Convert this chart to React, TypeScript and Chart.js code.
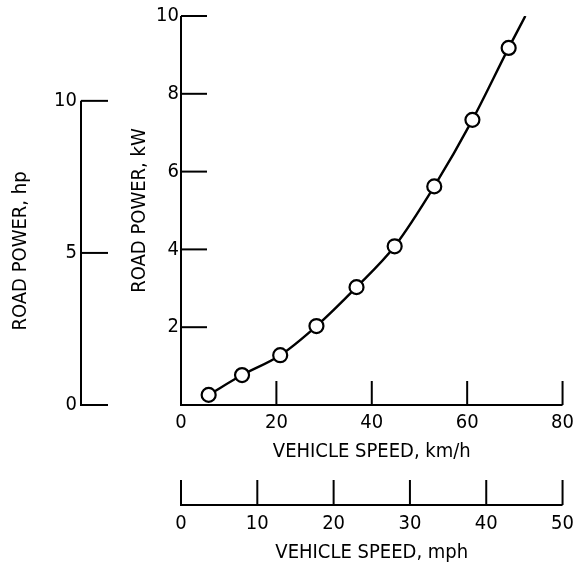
import React, { useEffect, useRef } from "react";
import { Chart, registerables } from "chart.js";

Chart.register(...registerables);

// Data
const speedKmh = [5.8, 12.8, 20.8, 28.4, 36.8, 44.8, 53.1, 61.1, 68.7];
const powerKw = [0.26, 0.77, 1.28, 2.03, 3.03, 4.08, 5.62, 7.33, 9.18];
// fitted curve: through the points, continuing to the top of the plot
const curveKmh = [5.8, 12.8, 20.8, 28.4, 36.8, 44.8, 53.1, 61.1, 68.7, 72.2];
const curveKw = [0.26, 0.77, 1.28, 2.03, 3.03, 4.08, 5.62, 7.33, 9.18, 10.0];

const kmhTicks = [20, 40, 60, 80];
const kwTicks = [2, 4, 6, 8, 10];
const hpTicks = [0, 5, 10];
const mphTicks = [0, 10, 20, 30, 40, 50];

const FONT = "'Liberation Sans Narrow', 'DejaVu Sans Condensed', 'Arial Narrow', sans-serif";
const FSIZE = 20;

const axesPlugin = {
  id: "paperAxes",
  afterDraw(chart: any) {
    const ctx = chart.ctx;
    const sx = chart.scales.x;
    const sy = chart.scales.y;
    const hp = chart.scales.hp;
    const mph = chart.scales.mph;
    ctx.save();
    ctx.strokeStyle = "#000";
    ctx.lineWidth = 2;
    ctx.lineCap = "butt";
    const line = (x1: number, y1: number, x2: number, y2: number) => {
      ctx.beginPath();
      ctx.moveTo(x1, y1);
      ctx.lineTo(x2, y2);
      ctx.stroke();
    };
    const x0 = sx.getPixelForValue(0);
    const y0 = sy.getPixelForValue(0);
    // kW axis
    line(x0, y0 + 1, x0, sy.getPixelForValue(10));
    kwTicks.forEach((v) => line(x0, sy.getPixelForValue(v), x0 + 26, sy.getPixelForValue(v)));
    // km/h axis
    line(x0 - 1, y0, sx.getPixelForValue(80), y0);
    kmhTicks.forEach((v) => line(sx.getPixelForValue(v), y0, sx.getPixelForValue(v), y0 - 24));
    // hp axis
    const hx = hp.right;
    line(hx, hp.getPixelForValue(0) + 1, hx, hp.getPixelForValue(10));
    hpTicks.forEach((v) => line(hx, hp.getPixelForValue(v), hx + 27, hp.getPixelForValue(v)));
    // mph axis
    const my = mph.top;
    line(mph.getPixelForValue(0) - 1, my, mph.getPixelForValue(50), my);
    mphTicks.forEach((v) => line(mph.getPixelForValue(v), my, mph.getPixelForValue(v), my - 25));
    // hp title
    ctx.fillStyle = "#000";
    ctx.font = `${FSIZE}px ${FONT}`;
    ctx.textAlign = "center";
    ctx.textBaseline = "middle";
    ctx.translate(21, 251);
    ctx.rotate(-Math.PI / 2);
    ctx.fillText("ROAD POWER, hp", 0, 0);
    ctx.restore();
  },
};

export default function App() {
  const ref = useRef<HTMLCanvasElement>(null);
  useEffect(() => {
    if (!ref.current) return;
    const font = { family: FONT, size: FSIZE };
    const noGrid = { display: false, drawTicks: false };
    const chart = new Chart(ref.current, {
      type: "scatter",
      data: {
        datasets: [
          {
            type: "scatter",
            data: speedKmh.map((x, i) => ({ x, y: powerKw[i] })),
            pointRadius: 7,
            pointBackgroundColor: "#fff",
            pointBorderColor: "#000",
            pointBorderWidth: 2.2,
            order: 0,
          } as any,
          {
            type: "line",
            data: curveKmh.map((x, i) => ({ x, y: curveKw[i] })),
            borderColor: "#000",
            borderWidth: 2.4,
            pointRadius: 0,
            fill: false,
            cubicInterpolationMode: "monotone",
            order: 1,
          } as any,
        ],
      },
      options: {
        responsive: false,
        animation: false,
        events: [],
        layout: { padding: { top: 15, right: 12, left: 0, bottom: 0 } },
        plugins: { legend: { display: false }, tooltip: { enabled: false } },
        scales: {
          x: {
            type: "linear",
            position: "bottom",
            weight: 0,
            min: 0,
            max: 80,
            grid: noGrid,
            border: { display: false },
            afterBuildTicks: (s: any) => {
              s.ticks = [0, ...kmhTicks].map((v) => ({ value: v }));
            },
            ticks: { color: "#000", font, padding: 6, maxRotation: 0 },
            title: {
              display: true,
              text: "VEHICLE SPEED, km/h",
              color: "#000",
              font,
              padding: { top: 0, bottom: 41 },
            },
            afterFit: (s: any) => {
              s.height = 100;
            },
          },
          mph: {
            type: "linear",
            position: "bottom",
            weight: 1,
            min: 0,
            max: 50,
            grid: noGrid,
            border: { display: false },
            afterBuildTicks: (s: any) => {
              s.ticks = mphTicks.map((v) => ({ value: v }));
            },
            ticks: { color: "#000", font, padding: 7, maxRotation: 0 },
            title: {
              display: true,
              text: "VEHICLE SPEED, mph",
              color: "#000",
              font,
              padding: { top: 0, bottom: 6 },
            },
            afterFit: (s: any) => {
              s.height = 66;
            },
          },
          y: {
            type: "linear",
            position: "left",
            weight: 0,
            min: 0,
            max: 10,
            grid: noGrid,
            border: { display: false },
            afterBuildTicks: (s: any) => {
              s.ticks = kwTicks.map((v) => ({ value: v }));
            },
            ticks: { color: "#000", font, padding: 2 },
            title: {
              display: true,
              text: "ROAD POWER, kW",
              color: "#000",
              font,
              padding: { top: 47, bottom: 0 },
            },
            afterFit: (s: any) => {
              s.width = 100;
            },
          },
          hp: {
            type: "linear",
            position: "left",
            weight: 1,
            min: 0,
            max: 12.79,
            grid: noGrid,
            border: { display: false },
            afterBuildTicks: (s: any) => {
              s.ticks = hpTicks.map((v) => ({ value: v }));
            },
            ticks: { color: "#000", font, padding: 4 },
            title: { display: false },
            afterFit: (s: any) => {
              s.width = 81;
            },
          },
        } as any,
      },
      plugins: [axesPlugin],
    });
    return () => chart.destroy();
  }, []);
  return (
    <div style={{ position: "absolute", left: 0, top: 0, width: 581, height: 571, background: "#fff" }}>
      <canvas ref={ref} width={581} height={571} style={{ display: "block" }} />
    </div>
  );
}
